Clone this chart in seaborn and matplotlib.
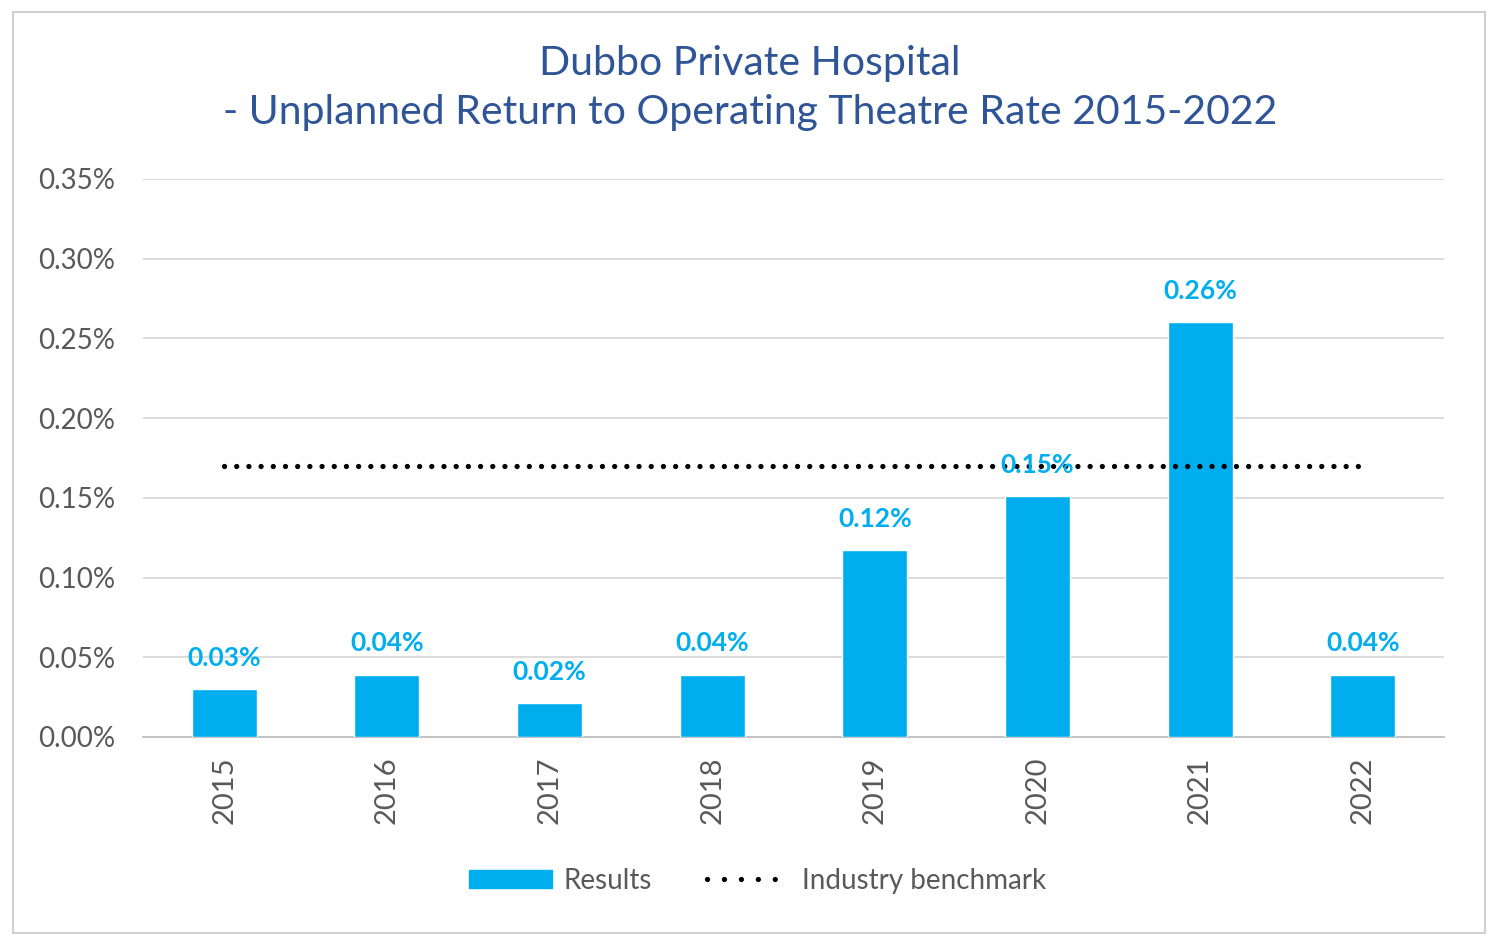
import pandas as pd
import seaborn as sns
import matplotlib
matplotlib.use("Agg")
import matplotlib.pyplot as plt
from matplotlib.patches import Patch, Rectangle
from matplotlib.lines import Line2D

# values (percent)
years = ["2015", "2016", "2017", "2018", "2019", "2020", "2021", "2022"]
results = [0.03, 0.039, 0.021, 0.039, 0.117, 0.151, 0.26, 0.039]
labels = ["0.03%", "0.04%", "0.02%", "0.04%", "0.12%", "0.15%", "0.26%", "0.04%"]
benchmark = [0.17] * len(years)
y_ticks = [0.0, 0.05, 0.10, 0.15, 0.20, 0.25, 0.30, 0.35]

bar_blue = "#00AEEF"
title_blue = "#2F5597"
grey_text = "#595959"


def main():
    df = pd.DataFrame({"year": years, "rate": results})

    sns.set_style("white")
    plt.rcParams["font.family"] = ["Lato", "DejaVu Sans"]

    fig = plt.figure(figsize=(15, 9.43), dpi=100)
    ax = fig.add_axes([0.0953, 0.2185, 0.8674, 0.5917])

    # outer chart border
    fig.patches.append(Rectangle((0.009, 0.011), 0.981, 0.976, transform=fig.transFigure,
                                 fill=False, edgecolor="#D0D0D0", linewidth=1.5))

    sns.barplot(data=df, x="year", y="rate", color=bar_blue, width=0.4,
                saturation=1, ax=ax, zorder=3)

    # benchmark as a dotted line across the categories
    ax.plot(range(len(years)), benchmark, color="black", linewidth=3.8,
            linestyle=(0, (0.01, 2.3)), dash_capstyle="round", zorder=4)

    # data labels above the bars
    for i, (v, lab) in enumerate(zip(results, labels)):
        ax.annotate(lab, (i, v), xytext=(0, 14), textcoords="offset points",
                    ha="center", va="bottom", color=bar_blue, fontsize=19,
                    fontweight="bold", zorder=5)

    ax.set_ylim(0, 0.35)
    ax.set_xlim(-0.5, len(years) - 0.5)
    ax.set_yticks(y_ticks)
    ax.set_yticklabels([f"{t:.2f}%" for t in y_ticks], color=grey_text, fontsize=20)
    ax.yaxis.grid(True, color="#D9D9D9", linewidth=1.3, zorder=0)
    ax.tick_params(axis="y", length=0, pad=20)

    # category labels rotated, tick marks between categories
    ax.set_xticks(range(len(years)))
    ax.set_xticklabels(years, rotation=90, color=grey_text, fontsize=21)
    ax.tick_params(axis="x", which="major", length=0, pad=14)
    ax.set_xticks([i - 0.5 for i in range(len(years) + 1)], minor=True)
    ax.tick_params(axis="x", which="minor", length=6, color="#BFBFBF", width=1.2)
    ax.set_xlabel("")
    ax.set_ylabel("")

    for side in ["top", "right", "left"]:
        ax.spines[side].set_visible(False)
    ax.spines["bottom"].set_color("#BFBFBF")
    ax.spines["bottom"].set_linewidth(1.3)

    fig.text(0.5, 0.933, "Dubbo Private Hospital", ha="center", va="center",
             color=title_blue, fontsize=29.5)
    fig.text(0.5, 0.881, "- Unplanned Return to Operating Theatre Rate 2015-2022",
             ha="center", va="center", color=title_blue, fontsize=29.5)

    handles = [Patch(facecolor=bar_blue, edgecolor=bar_blue),
               Line2D([0], [0], color="black", linewidth=3.8,
                      linestyle=(0, (0.01, 3.2)), dash_capstyle="round")]
    fig.legend(handles, ["Results", "Industry benchmark"], loc="center",
               bbox_to_anchor=(0.505, 0.066), ncol=2, frameon=False,
               fontsize=20, labelcolor=grey_text, handlelength=3.0,
               handleheight=0.6, columnspacing=2.0, handletextpad=0.4)

    fig.savefig("out.png", dpi=100)


if __name__ == "__main__":
    main()
